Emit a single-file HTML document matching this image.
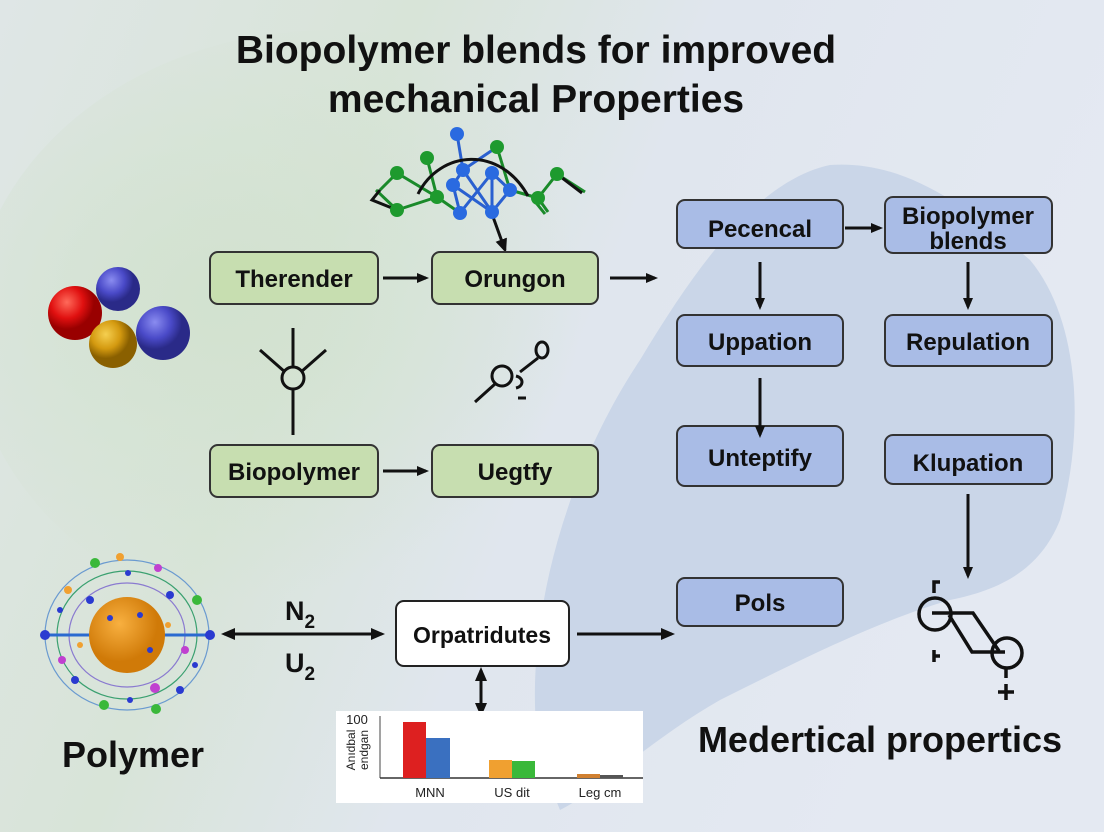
<!DOCTYPE html>
<html><head><meta charset="utf-8"><style>
html,body{margin:0;padding:0}
body{width:1104px;height:832px;overflow:hidden;font-family:"Liberation Sans",Arial,sans-serif;}
</style></head><body>
<svg width="1104" height="832" viewBox="0 0 1104 832" xmlns="http://www.w3.org/2000/svg" font-family="Liberation Sans, Arial, sans-serif">
<defs>
<linearGradient id="bg" x1="0" y1="0" x2="1" y2="0.3">
<stop offset="0" stop-color="#dfe6e6"/><stop offset="0.35" stop-color="#d8e4d8"/><stop offset="0.6" stop-color="#e0e6ee"/><stop offset="1" stop-color="#e4e9f2"/>
</linearGradient>
<radialGradient id="gr" cx="0.35" cy="0.45" r="0.5"><stop offset="0" stop-color="#d2e2cf"/><stop offset="1" stop-color="#d2e2cf" stop-opacity="0"/></radialGradient>
<radialGradient id="red" cx="0.35" cy="0.3"><stop offset="0" stop-color="#ff6a5a"/><stop offset="0.6" stop-color="#e01010"/><stop offset="1" stop-color="#900"/></radialGradient>
<radialGradient id="blu" cx="0.35" cy="0.3"><stop offset="0" stop-color="#8a8cf0"/><stop offset="0.6" stop-color="#4a4ac8"/><stop offset="1" stop-color="#2a2a88"/></radialGradient>
<radialGradient id="yel" cx="0.35" cy="0.3"><stop offset="0" stop-color="#f5cf50"/><stop offset="0.6" stop-color="#d49a10"/><stop offset="1" stop-color="#8a6000"/></radialGradient>
<radialGradient id="org" cx="0.4" cy="0.35"><stop offset="0" stop-color="#f8b040"/><stop offset="1" stop-color="#d07a08"/></radialGradient>
<marker id="ah" markerWidth="12" markerHeight="12" refX="9" refY="6" orient="auto" markerUnits="userSpaceOnUse"><path d="M0,1 L12,6 L0,11 z" fill="#111"/></marker>
<marker id="ah2" markerWidth="14" markerHeight="14" refX="11" refY="7" orient="auto" markerUnits="userSpaceOnUse"><path d="M0,1 L14,7 L0,13 z" fill="#111"/></marker>
<marker id="ahs" markerWidth="14" markerHeight="14" refX="3" refY="7" orient="auto" markerUnits="userSpaceOnUse"><path d="M14,1 L0,7 L14,13 z" fill="#111"/></marker>
</defs>
<rect width="1104" height="832" fill="url(#bg)"/>
<ellipse cx="330" cy="330" rx="360" ry="300" fill="url(#gr)"/>
<path d="M540,760 C520,640 560,480 640,360 C700,260 760,180 830,165 C900,160 960,200 1030,260 C1080,320 1085,430 1060,520 C1040,570 1000,590 950,600 C880,620 800,660 720,700 C650,740 600,790 560,810 Z" fill="#c6d2e6" opacity="0.85"/>
<text x="536" y="63" font-size="39" font-weight="bold" text-anchor="middle" fill="#111">Biopolymer blends for improved</text>
<text x="536" y="112" font-size="39" font-weight="bold" text-anchor="middle" fill="#111">mechanical Properties</text>

<!-- top molecule -->
<g stroke-width="3">
<path d="M380,190 L397,173 M376,190 L397,210 M397,173 L437,197 L397,210 M427,158 L437,197 M437,197 L460,213 M538,198 L557,174 L585,192 M538,198 L548,212 M533,199 L545,214 M497,147 L510,190 M538,198 L510,190" stroke="#1a8a2a" fill="none"/>
<path d="M457,134 L463,170 L497,147 M463,170 L453,185 L460,213 L492,173 L510,190 L492,212 L453,185 M492,173 L492,212 M463,170 L492,212" stroke="#2a60d0" fill="none"/>
<path d="M380,190 L372,200 L397,210" stroke="#111" fill="none"/>
<path d="M418,194 C440,150 500,145 528,196" stroke="#111" fill="none"/>
<path d="M557,174 L582,193" stroke="#111" fill="none"/>
</g>
<line x1="492" y1="214" x2="505" y2="250" stroke="#111" stroke-width="3" marker-end="url(#ah2)"/>
<g fill="#1e9a2e"><circle cx="397" cy="173" r="7"/><circle cx="427" cy="158" r="7"/><circle cx="437" cy="197" r="7"/><circle cx="397" cy="210" r="7"/><circle cx="497" cy="147" r="7"/><circle cx="557" cy="174" r="7"/><circle cx="538" cy="198" r="7"/></g>
<g fill="#2a6ae0"><circle cx="457" cy="134" r="7"/><circle cx="463" cy="170" r="7"/><circle cx="453" cy="185" r="7"/><circle cx="460" cy="213" r="7"/><circle cx="492" cy="173" r="7"/><circle cx="510" cy="190" r="7"/><circle cx="492" cy="212" r="7"/></g>

<!-- left molecule -->
<line x1="75" y1="313" x2="113" y2="343" stroke="#e02020" stroke-width="8"/>
<circle cx="118" cy="289" r="22" fill="url(#blu)"/>
<circle cx="75" cy="313" r="27" fill="url(#red)"/>
<circle cx="163" cy="333" r="27" fill="url(#blu)"/>
<circle cx="113" cy="344" r="24" fill="url(#yel)"/>

<!-- green boxes -->
<g fill="#c7deb0" stroke="#333" stroke-width="2">
<rect x="210" y="252" width="168" height="52" rx="8"/><rect x="432" y="252" width="166" height="52" rx="8"/>
<rect x="210" y="445" width="168" height="52" rx="8"/><rect x="432" y="445" width="166" height="52" rx="8"/>
</g>
<g font-size="24" font-weight="bold" text-anchor="middle" fill="#111">
<text x="294" y="287">Therender</text><text x="515" y="287">Orungon</text>
<text x="294" y="480">Biopolymer</text><text x="515" y="480">Uegtfy</text>
</g>
<g stroke="#111" stroke-width="3" fill="none">
<line x1="383" y1="278" x2="426" y2="278" marker-end="url(#ah)"/>
<line x1="383" y1="471" x2="426" y2="471" marker-end="url(#ah)"/>
<line x1="610" y1="278" x2="655" y2="278" marker-end="url(#ah)"/>
<line x1="293" y1="328" x2="293" y2="366"/><line x1="293" y1="390" x2="293" y2="435"/>
<line x1="260" y1="350" x2="285" y2="372"/><line x1="326" y1="350" x2="301" y2="372"/>
<circle cx="293" cy="378" r="11"/>
<circle cx="502" cy="376" r="10"/><line x1="495" y1="384" x2="475" y2="402"/>
<ellipse cx="542" cy="350" rx="6" ry="8"/><line x1="538" y1="358" x2="520" y2="372"/>
<path d="M516,376 C524,378 524,386 516,388"/><line x1="518" y1="398" x2="526" y2="398"/>
</g>

<!-- blue boxes -->
<g fill="#a9bce6" stroke="#333" stroke-width="2">
<rect x="677" y="200" width="166" height="48" rx="8"/>
<rect x="885" y="197" width="167" height="56" rx="8"/>
<rect x="677" y="315" width="166" height="51" rx="8"/>
<rect x="885" y="315" width="167" height="51" rx="8"/>
<rect x="677" y="426" width="166" height="60" rx="8"/>
<rect x="885" y="435" width="167" height="49" rx="8"/>
<rect x="677" y="578" width="166" height="48" rx="8"/>
</g>
<g font-size="24" font-weight="bold" text-anchor="middle" fill="#111">
<text x="760" y="237">Pecencal</text>
<text x="968" y="224">Biopolymer</text><text x="968" y="249">blends</text>
<text x="760" y="350">Uppation</text><text x="968" y="350">Repulation</text>
<text x="760" y="466">Unteptify</text><text x="968" y="471">Klupation</text>
<text x="760" y="611">Pols</text>
</g>
<g stroke="#111" stroke-width="3">
<line x1="845" y1="228" x2="880" y2="228" marker-end="url(#ah)"/>
<line x1="760" y1="262" x2="760" y2="307" marker-end="url(#ah)"/>
<line x1="968" y1="262" x2="968" y2="307" marker-end="url(#ah)"/>
<line x1="760" y1="378" x2="760" y2="435" marker-end="url(#ah)"/>
<line x1="968" y1="494" x2="968" y2="576" marker-end="url(#ah)"/>
<line x1="577" y1="634" x2="672" y2="634" marker-end="url(#ah2)"/>
<line x1="224" y1="634" x2="382" y2="634" marker-start="url(#ahs)" marker-end="url(#ah2)"/>
<line x1="481" y1="670" x2="481" y2="714" marker-start="url(#ahs)" marker-end="url(#ah2)"/>
</g>

<!-- switch symbol -->
<g stroke="#111" stroke-width="3.5" fill="none">
<circle cx="935" cy="614" r="16"/><circle cx="1007" cy="653" r="15"/>
<path d="M932,613 L973,613 L999,651"/><path d="M949,615 L972,652 L1005,652"/>
<path d="M934,593 L934,582 L940,582"/><path d="M934,650 L934,662 M934,656 L940,656"/>
<path d="M1006,668 L1006,678 M1006,684 L1006,700 M998,692 L1014,692"/>
</g>

<!-- Orpatridutes -->
<rect x="396" y="601" width="173" height="65" rx="8" fill="#fff" stroke="#222" stroke-width="2"/>
<text x="482" y="643" font-size="23" font-weight="bold" text-anchor="middle" fill="#111">Orpatridutes</text>
<text x="300" y="620" font-size="27" font-weight="bold" text-anchor="middle" fill="#111">N<tspan font-size="19" dy="8">2</tspan></text>
<text x="300" y="672" font-size="27" font-weight="bold" text-anchor="middle" fill="#111">U<tspan font-size="19" dy="8">2</tspan></text>

<!-- polymer sphere -->
<g fill="none" stroke-width="1.2">
<ellipse cx="127" cy="635" rx="82" ry="75" stroke="#6a9ad0"/>
<ellipse cx="127" cy="635" rx="70" ry="64" stroke="#3aa070"/>
<ellipse cx="127" cy="635" rx="58" ry="52" stroke="#8a7ad0"/>
<line x1="45" y1="635" x2="210" y2="635" stroke="#2a6ad0" stroke-width="3"/>
</g>
<circle cx="127" cy="635" r="38" fill="url(#org)"/>
<g fill="#2a3ad0"><circle cx="45" cy="635" r="5"/><circle cx="210" cy="635" r="5"/><circle cx="110" cy="618" r="3"/><circle cx="140" cy="615" r="3"/><circle cx="150" cy="650" r="3"/><circle cx="90" cy="600" r="4"/><circle cx="170" cy="595" r="4"/><circle cx="75" cy="680" r="4"/><circle cx="180" cy="690" r="4"/><circle cx="128" cy="573" r="3"/><circle cx="130" cy="700" r="3"/><circle cx="60" cy="610" r="3"/><circle cx="195" cy="665" r="3"/></g>
<g fill="#3ab83a"><circle cx="95" cy="563" r="5"/><circle cx="197" cy="600" r="5"/><circle cx="156" cy="709" r="5"/><circle cx="104" cy="705" r="5"/></g>
<g fill="#c040d0"><circle cx="158" cy="568" r="4"/><circle cx="155" cy="688" r="5"/><circle cx="62" cy="660" r="4"/><circle cx="185" cy="650" r="4"/></g>
<g fill="#f0a030"><circle cx="68" cy="590" r="4"/><circle cx="120" cy="557" r="4"/><circle cx="80" cy="645" r="3"/><circle cx="168" cy="625" r="3"/></g>
<text x="133" y="767" font-size="36" font-weight="bold" text-anchor="middle" fill="#111">Polymer</text>
<text x="880" y="752" font-size="36" font-weight="bold" text-anchor="middle" fill="#111">Medertical propertics</text>

<!-- chart -->
<rect x="336" y="711" width="307" height="92" fill="#fff"/>
<line x1="380" y1="716" x2="380" y2="778" stroke="#444" stroke-width="1"/>
<line x1="380" y1="778" x2="643" y2="778" stroke="#333" stroke-width="1.5"/>
<rect x="403" y="722" width="23" height="56" fill="#dd2020"/><rect x="426" y="738" width="24" height="40" fill="#3a70c0"/>
<rect x="489" y="760" width="23" height="18" fill="#f0a030"/><rect x="512" y="761" width="23" height="17" fill="#3ab83a"/>
<rect x="577" y="774" width="23" height="4" fill="#d08030"/><rect x="600" y="775" width="23" height="3" fill="#555"/>
<text x="357" y="724" font-size="13" fill="#222" text-anchor="middle">100</text>
<text transform="translate(355,750) rotate(-90)" font-size="12" fill="#222" text-anchor="middle">Anıdbal</text>
<text transform="translate(368,750) rotate(-90)" font-size="12" fill="#222" text-anchor="middle">endgan</text>
<g font-size="13" fill="#222" text-anchor="middle"><text x="430" y="797">MNN</text><text x="512" y="797">US dit</text><text x="600" y="797">Leg cm</text></g>
</svg>
</body></html>
